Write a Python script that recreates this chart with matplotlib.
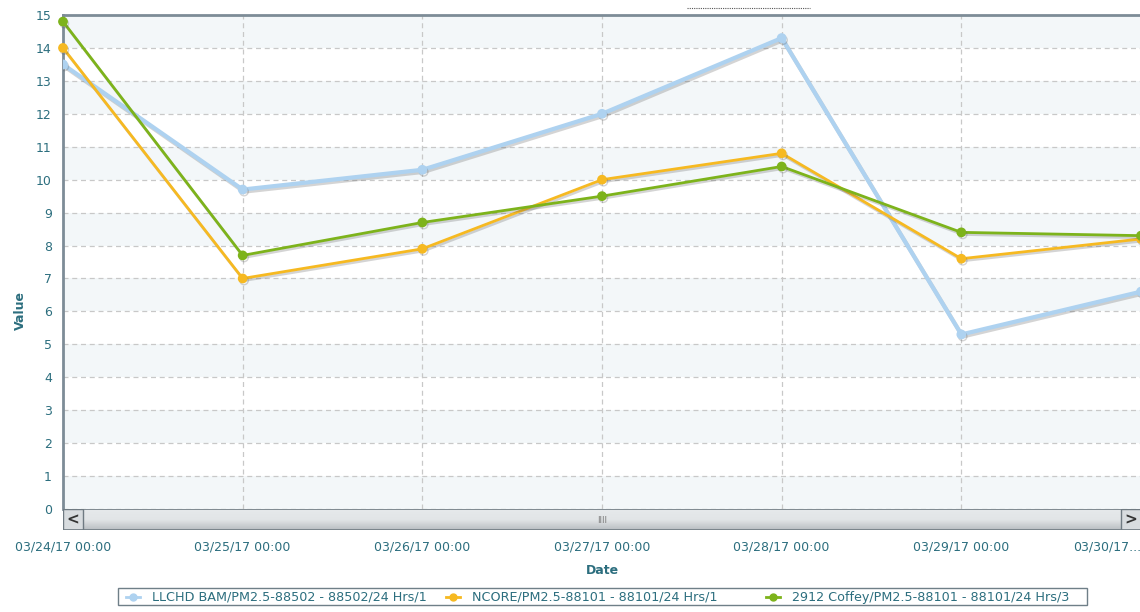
import numpy as np
import matplotlib.pyplot as plt
import matplotlib.patheffects as pe
from matplotlib.lines import Line2D
from matplotlib.colors import LinearSegmentedColormap

# values, one point per day
dates = ["03/24/17 00:00", "03/25/17 00:00", "03/26/17 00:00", "03/27/17 00:00",
         "03/28/17 00:00", "03/29/17 00:00", "03/30/17..."]
llchd = [13.5, 9.7, 10.3, 12.0, 14.3, 5.3, 6.6]
ncore = [14.0, 7.0, 7.9, 10.0, 10.8, 7.6, 8.2]
coffey = [14.8, 7.7, 8.7, 9.5, 10.4, 8.4, 8.3]
names = ["LLCHD BAM/PM2.5-88502 - 88502/24 Hrs/1",
         "NCORE/PM2.5-88101 - 88101/24 Hrs/1",
         "2912 Coffey/PM2.5-88101 - 88101/24 Hrs/3"]
colors = ["#aed2f0", "#f6b921", "#7db31b"]
yticks = list(range(0, 16))

W, H = 1140, 612
fig = plt.figure(figsize=(W / 100, H / 100), dpi=100)
txt = "#2c6e7e"

def box(x0, y0, x1, y1):
    # pixel box -> figure fraction rect
    return [x0 / W, 1 - y1 / H, (x1 - x0) / W, (y1 - y0) / H]

ax = fig.add_axes(box(63, 15, 1141, 509))
x = np.arange(len(dates))

# alternating bands
for lo in range(0, 15, 2):
    ax.axhspan(lo, lo + 1, color="#f3f7f9", zorder=0, lw=0)

shadow = [pe.SimpleLineShadow(offset=(1, -1.5), alpha=0.25, shadow_color="#555555"), pe.Normal()]
for vals, c, lw in zip([llchd, ncore, coffey], colors, [3.0, 2.0, 2.0]):
    ax.plot(x, vals, color=c, lw=lw, marker="o", ms=6, zorder=3,
            path_effects=shadow, clip_on=(c == colors[0]))

ax.set_xlim(0, 6)
ax.set_ylim(0, 15)
ax.set_yticks(yticks)
ax.set_xticks(x)
ax.set_xticklabels(dates)
ax.get_xticklabels()[-1].set_horizontalalignment("right")
ax.grid(True, color="#c8c8c8", ls=(0, (4, 3)), lw=0.9)
ax.set_axisbelow(True)
ax.tick_params(length=0, colors=txt, labelsize=9)
ax.tick_params(axis="x", pad=30)
ax.tick_params(axis="y", pad=8)
for s in ["right", "bottom"]:
    ax.spines[s].set_visible(False)
for s in ["left", "top"]:
    ax.spines[s].set_color("#7d8c97")
    ax.spines[s].set_linewidth(2)
# tick labels sit a bit higher than the default pad puts them
for lab in ax.get_xticklabels():
    lab.set_y(lab.get_position()[1] + 0.02)

fig.text(20 / W, 1 - 310 / H, "Value", rotation=90, ha="center", va="center",
         fontsize=9, fontweight="bold", color=txt)
fig.text(602 / W, 1 - 571 / H, "Date", ha="center", va="center",
         fontsize=9, fontweight="bold", color=txt)

# scrollbar under the plot
sb = fig.add_axes(box(63, 509, 1141, 530))
grad = np.linspace(0, 1, 50).reshape(-1, 1)
sb.imshow(grad, aspect="auto", cmap=LinearSegmentedColormap.from_list(
    "g", ["#e6e9eb", "#e2e5e7", "#b9bec2"]), extent=[0, 1, 0, 1], origin="upper")
sb.set_xlim(0, 1)
sb.set_ylim(0, 1)
sb.axis("off")
bw = 20 / 1078
sb.add_patch(plt.Rectangle((0, 0), bw, 1, fc="#d8dcdf", ec="#6f7a82", lw=1))
sb.add_patch(plt.Rectangle((1 - bw, 0), bw, 1, fc="#d8dcdf", ec="#6f7a82", lw=1))
sb.add_patch(plt.Rectangle((0, 0), 1, 1, fill=False, ec="#6f7a82", lw=1.2))
sb.text(bw / 2, 0.5, "<", ha="center", va="center", fontsize=11, fontweight="bold", color="#333333")
sb.text(1 - bw / 2, 0.5, ">", ha="center", va="center", fontsize=11, fontweight="bold", color="#333333")
sb.text(0.5, 0.45, "IIII", ha="center", va="center", fontsize=6, color="#777777")

# dotted mark above the plot
fig.add_artist(Line2D([687 / W, 810 / W], [1 - 8 / H, 1 - 8 / H], color="#555555",
                      lw=0.8, ls=(0, (1, 1))))

# legend box
fig.add_artist(plt.Rectangle((118 / W, 1 - 605 / H), (1087 - 118) / W, 17 / H,
                             transform=fig.transFigure, fill=False, ec="#6f7f88", lw=1))
for name, c, mx in zip(names, colors, [133, 453, 773]):
    fig.add_artist(Line2D([(mx - 7) / W, (mx + 7) / W], [1 - 597 / H] * 2, color=c, lw=2))
    fig.add_artist(Line2D([mx / W], [1 - 597 / H], color=c, marker="o", ms=5))
    fig.text((mx + 19) / W, 1 - 597 / H, name, ha="left", va="center", fontsize=9.2, color=txt)

fig.savefig("out.png", dpi=100)
